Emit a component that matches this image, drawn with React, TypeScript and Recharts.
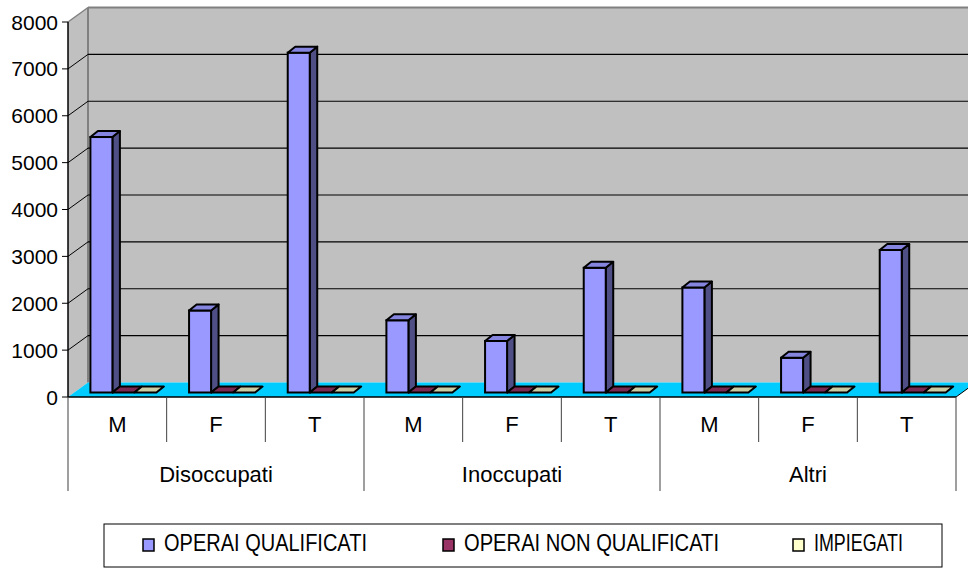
import React from 'react'
import { BarChart, Bar, XAxis, YAxis, CartesianGrid } from 'recharts'

const CATEGORIES = ['M', 'F', 'T', 'M', 'F', 'T', 'M', 'F', 'T']
const GROUPS = ['Disoccupati', 'Inoccupati', 'Altri']
const OPERAI_QUALIFICATI = [5450, 1750, 7250, 1540, 1100, 2660, 2240, 740, 3040]
const OPERAI_NON_QUALIFICATI = [0, 0, 0, 0, 0, 0, 0, 0, 0]
const IMPIEGATI = [0, 0, 0, 0, 0, 0, 0, 0, 0]
const Y_TICKS = [0, 1000, 2000, 3000, 4000, 5000, 6000, 7000, 8000]

const SERIES = [
  { key: 'oq', name: 'OPERAI QUALIFICATI', values: OPERAI_QUALIFICATI, front: '#9999FF', side: '#4F4F85', top: '#8585E0', legendW: 203 },
  { key: 'onq', name: 'OPERAI NON QUALIFICATI', values: OPERAI_NON_QUALIFICATI, front: '#993366', side: '#5C1F3D', top: '#7A2950', legendW: 255 },
  { key: 'imp', name: 'IMPIEGATI', values: IMPIEGATI, front: '#FFFFCC', side: '#99997A', top: '#CCCCA3', legendW: 89 },
]

const data = CATEGORIES.map((sex, i) => {
  const row: Record<string, any> = { id: GROUPS[Math.floor(i / 3)] + '-' + sex, sex, group: GROUPS[Math.floor(i / 3)] }
  SERIES.forEach(s => { row[s.key] = s.values[i] })
  return row
})

// layout
const W = 968
const H = 570
const LEFT = 68
const TOP = 22
const ZERO_Y = 397
const RIGHT = 956
const DX = 20 // depth of the chart box
const DY = -14.5
const BAND = (RIGHT - LEFT) / CATEGORIES.length
const SX = 6.4 // bars sit a bit inside the box
const SY = -4.5
const BDX = 7.5 // depth of each bar
const BDY = -6
const FONT = '"Liberation Sans", Arial, sans-serif'
const LEGEND_X = [143, 443, 793]

function makeShape(s: typeof SERIES[number]) {
  return (p: any) => {
    const w = p.width
    const h = Math.max(0, p.height || 0)
    const fx = p.x + SX
    const fy = p.y + SY
    const topFace = `${fx},${fy} ${fx + w},${fy} ${fx + w + BDX},${fy + BDY} ${fx + BDX},${fy + BDY}`
    if (h < 1) {
      return <polygon points={topFace} fill={s.top} stroke="#000" strokeWidth={2} strokeLinejoin="round" />
    }
    const sideFace = `${fx + w},${fy} ${fx + w + BDX},${fy + BDY} ${fx + w + BDX},${fy + h + BDY} ${fx + w},${fy + h}`
    return (
      <g>
        <polygon points={sideFace} fill={s.side} stroke="#000" strokeWidth={2} strokeLinejoin="round" />
        <rect x={fx} y={fy} width={w} height={h} fill={s.front} stroke="#000" strokeWidth={2} />
        <polygon points={topFace} fill={s.top} stroke="#000" strokeWidth={2} strokeLinejoin="round" />
      </g>
    )
  }
}

const gridLine = (p: any) => {
  const y = p.y1
  if (Math.abs(y - ZERO_Y) < 1 || Math.abs(y - TOP) < 1) return <g key={p.key} />
  return <line key={p.key} x1={LEFT + DX} x2={W} y1={y + DY} y2={y + DY} stroke="#000" strokeWidth={1.2} />
}

const YTick = (p: any) => {
  const y = p.y
  return (
    <g>
      <line x1={LEFT - 6} x2={LEFT} y1={y} y2={y} stroke="#000" />
      {y > TOP + 1 && y < ZERO_Y - 1 && <line x1={LEFT} y1={y} x2={LEFT + DX} y2={y + DY} stroke="#000" />}
      <text x={LEFT - 10} y={y + 7.5} textAnchor="end" fontFamily={FONT} fontSize={21} fill="#000">{p.payload.value}</text>
    </g>
  )
}

const XTick = (p: any) => {
  const i = p.index ?? p.payload.index
  const x = p.x
  const row = data[i]
  const right = x + BAND / 2
  const groupEnd = i % 3 === 2
  return (
    <g>
      {i === 0 && <line x1={x - BAND / 2} x2={x - BAND / 2} y1={ZERO_Y} y2={ZERO_Y + 94} stroke="#404040" />}
      <line x1={right} x2={right} y1={ZERO_Y} y2={ZERO_Y + (groupEnd ? 94 : 45)} stroke="#404040" />
      <text x={x} y={ZERO_Y + 35} textAnchor="middle" fontFamily={FONT} fontSize={22} fill="#000">{row.sex}</text>
      {i % 3 === 1 && (
        <text x={x} y={ZERO_Y + 85} textAnchor="middle" fontFamily={FONT} fontSize={22} fill="#000">{row.group}</text>
      )}
    </g>
  )
}

export default function App() {
  const backTop = TOP + DY
  const backBottom = ZERO_Y + DY
  return (
    <div style={{ position: 'absolute', left: 0, top: 0, width: W, height: H, background: '#fff', overflow: 'hidden' }}>
      <svg width={W} height={H} style={{ position: 'absolute', left: 0, top: 0 }}>
        {/* walls and floor */}
        <rect x={LEFT + DX} y={backTop} width={W - LEFT - DX} height={backBottom - backTop} fill="#C0C0C0" />
        <polygon points={`${LEFT},${TOP} ${LEFT + DX},${backTop} ${LEFT + DX},${backBottom} ${LEFT},${ZERO_Y}`} fill="#C0C0C0" />
        <line x1={LEFT + DX} x2={W} y1={backTop} y2={backTop} stroke="#808080" strokeWidth={2} />
        <line x1={LEFT + DX} x2={LEFT + DX} y1={backTop} y2={backBottom} stroke="#808080" strokeWidth={2} />
        <line x1={LEFT} y1={TOP} x2={LEFT + DX} y2={backTop} stroke="#808080" strokeWidth={1.5} />
        <polygon points={`${LEFT},${ZERO_Y} ${RIGHT},${ZERO_Y} ${RIGHT + DX},${backBottom} ${LEFT + DX},${backBottom}`} fill="#00CCFF" />
        <line x1={RIGHT} y1={ZERO_Y} x2={RIGHT + DX} y2={backBottom} stroke="#000" />

        {/* legend */}
        <rect x={104} y={524} width={838} height={43} fill="none" stroke="#000" />
        {SERIES.map((s, i) => (
          <g key={s.key}>
            <rect x={LEGEND_X[i]} y={539} width={11} height={12} fill={s.front} stroke="#000" strokeWidth={1.5} />
            <text x={LEGEND_X[i] + 21} y={551} fontFamily={FONT} fontSize={24} fill="#000" textLength={s.legendW} lengthAdjust="spacingAndGlyphs">{s.name}</text>
          </g>
        ))}
      </svg>
      <div style={{ position: 'absolute', left: 0, top: 0 }}>
        <BarChart
          width={W}
          height={H}
          data={data}
          margin={{ top: TOP, right: W - RIGHT, bottom: H - ZERO_Y - 100, left: 0 }}
          barGap={0}
          barSize={22}
        >
          <CartesianGrid vertical={false} horizontal={gridLine} />
          <XAxis dataKey="id" height={100} interval={0} tickLine={false} axisLine={{ stroke: '#000', strokeWidth: 1.5 }} tick={XTick} />
          <YAxis width={LEFT} domain={[0, 8000]} ticks={Y_TICKS} interval={0} tickLine={false} axisLine={{ stroke: '#000', strokeWidth: 1.5 }} tick={YTick} />
          {SERIES.map(s => (
            <Bar key={s.key} dataKey={s.key} name={s.name} fill={s.front} shape={makeShape(s)} isAnimationActive={false} />
          ))}
        </BarChart>
      </div>
    </div>
  )
}
